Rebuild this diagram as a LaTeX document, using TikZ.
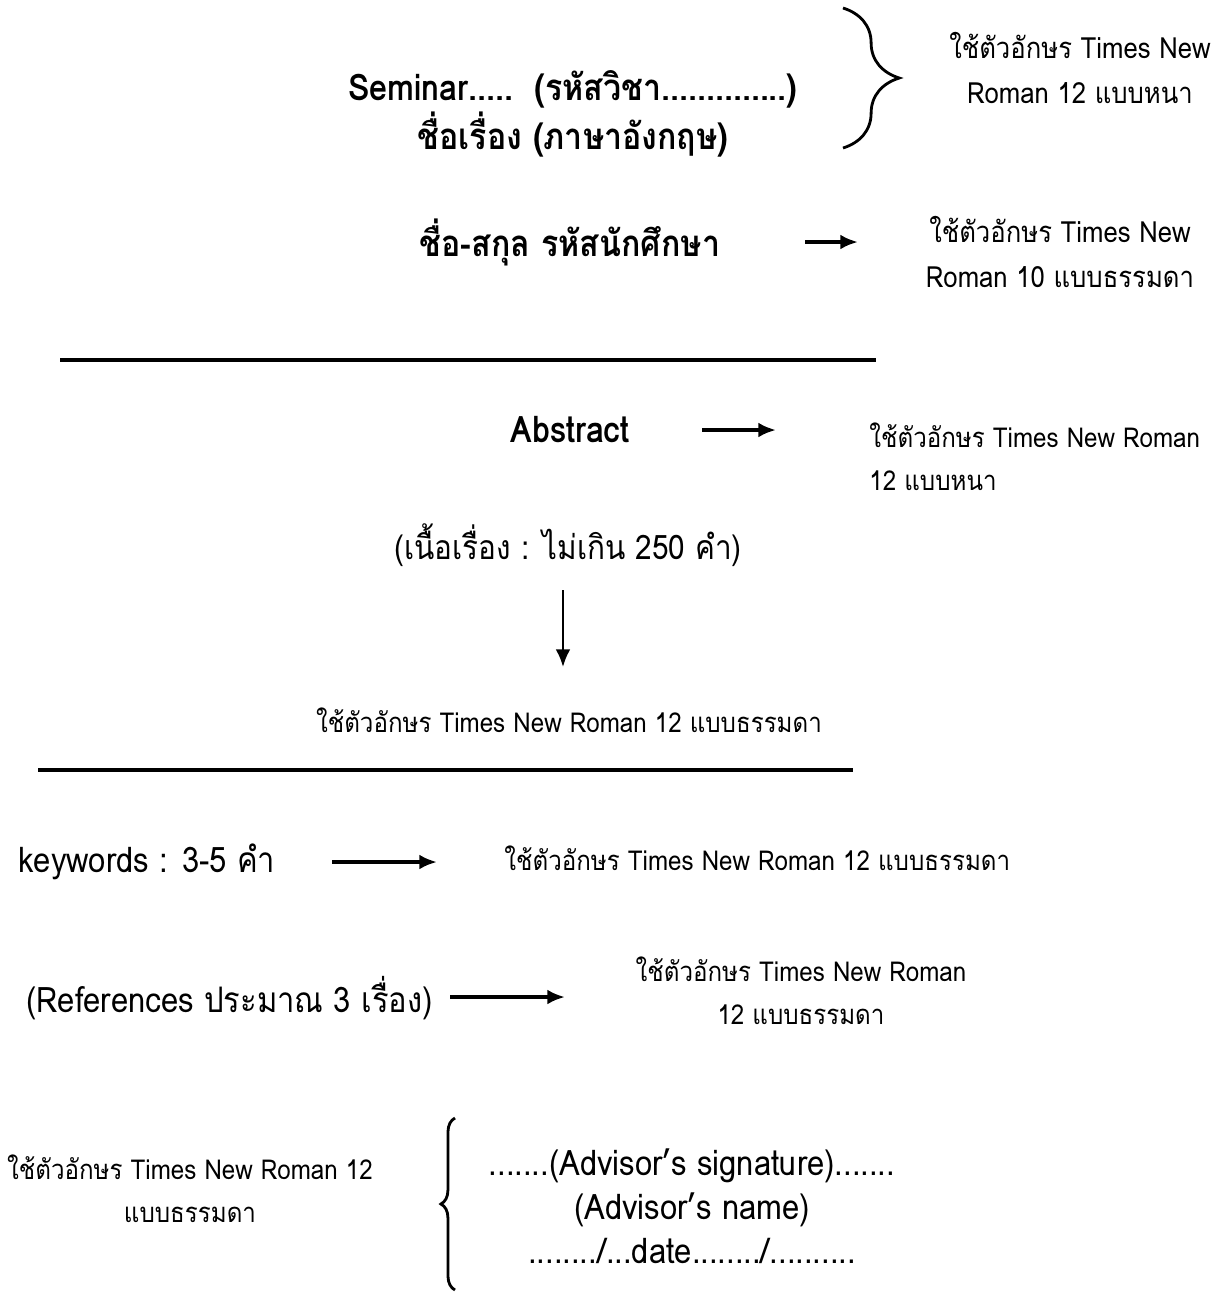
\documentclass[tikz,border=0pt]{standalone}
\usepackage{fontspec}
\setmainfont[Script=Thai, FakeStretch=0.88]{Loma}
\usetikzlibrary{arrows.meta}
\usetikzlibrary{decorations.pathreplacing}

\begin{document}
\begin{tikzpicture}[x=0.01cm,y=-0.01cm]
      \tikzset{big/.style = {font=\fontsize{10.4}{10.8}\selectfont\bfseries}}
      \tikzset{body/.style = {font=\fontsize{10}{12.5}\selectfont}}
      \tikzset{note/.style = {font=\fontsize{7.8}{12.3}\selectfont, align=center}}
      \tikzset{topnote/.style = {note, font=\fontsize{8.3}{12.8}\selectfont}}
      \tikzset{edge/.style = {-{Latex[length=5pt,width=4.2pt]}, line width=1pt}}
      \tikzset{rule/.style = {line width=0.9pt}}
      \tikzset{brace/.style = {decorate, thick}}
      \useasboundingbox (0,0) rectangle (1218,1308);
      \node[big, align=center] (title) at (573,114) {Seminar.....\ \ (รหัสวิชา..............)\\ชื่อเรื่อง (ภาษาอังกฤษ)};
      \node[topnote] (n1) at (1080,68) {ใช้ตัวอักษร Times New\\Roman 12 แบบหนา};
      \node[big] (name) at (570,242) {ชื่อ-สกุล รหัสนักศึกษา};
      \node[topnote] (n2) at (1060,252) {ใช้ตัวอักษร Times New\\Roman 10 แบบธรรมดา};
      \node[big] (abs) at (570,430) {Abstract};
      \node[note, align=left, anchor=west] (n3) at (857,457) {ใช้ตัวอักษร Times New Roman\\12 แบบหนา};
      \node[body, font=\fontsize{9.6}{12}\selectfont] (text) at (568,545) {(เนื้อเรื่อง : ไม่เกิน 250 คำ)};
      \node[note] (n4) at (569,720) {ใช้ตัวอักษร Times New Roman 12 แบบธรรมดา};
      \node[body, anchor=west] (key) at (6,862) {keywords : 3-5 คำ};
      \node[note, anchor=west] (n5) at (492,858) {ใช้ตัวอักษร Times New Roman 12 แบบธรรมดา};
      \node[body, anchor=west] (ref) at (14,998) {(References ประมาณ 3 เรื่อง)};
      \node[note] (n6) at (801,991) {ใช้ตัวอักษร Times New Roman\\12 แบบธรรมดา};
      \node[note] (n7) at (190,1189) {ใช้ตัวอักษร Times New Roman 12\\แบบธรรมดา};
      \node[body, align=center] (sign) at (692,1206) {.......(Advisor’s signature).......\\(Advisor’s name)\\......../...date......../..........};
      \coordinate (b1) at (843,8);
      \coordinate (b2) at (843,148);
      \coordinate (b3) at (455,1118);
      \coordinate (b4) at (455,1290);
      \coordinate (r1) at (60,360);
      \coordinate (r2) at (876,360);
      \coordinate (r3) at (38,770);
      \coordinate (r4) at (853,770);
      \coordinate (a1) at (805,242);
      \coordinate (a2) at (858,242);
      \coordinate (a3) at (702,430);
      \coordinate (a4) at (776,430);
      \coordinate (d1) at (563,590);
      \coordinate (d2) at (563,667);
      \coordinate (k1) at (332,862);
      \coordinate (k2) at (437,862);
      \coordinate (f1) at (450,997);
      \coordinate (f2) at (565,997);
      \draw[brace, decoration={brace, amplitude=16pt}] (b1) to (b2);
      \draw[brace, decoration={brace, amplitude=4pt}] (b4) to (b3);
      \draw[rule] (r1) to (r2);
      \draw[rule] (r3) to (r4);
      \draw[edge] (a1) to (a2);
      \draw[edge] (a3) to (a4);
      \draw[edge, line width=0.7pt] (d1) to (d2);
      \draw[edge] (k1) to (k2);
      \draw[edge] (f1) to (f2);
    \end{tikzpicture}
\end{document}
